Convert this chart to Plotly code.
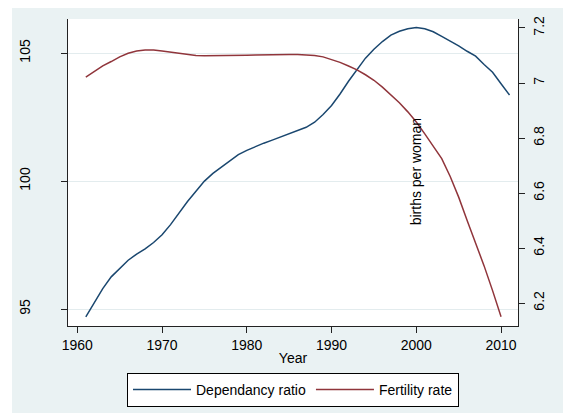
import plotly.graph_objects as go

years_dep = list(range(1961, 2012))
dependency_ratio = [
    94.70, 95.25, 95.80, 96.26, 96.60, 96.91, 97.15, 97.35, 97.60, 97.90,
    98.30, 98.75, 99.20, 99.60, 100.00, 100.30, 100.55, 100.80, 101.03, 101.20,
    101.35, 101.48, 101.60, 101.72, 101.85, 101.97, 102.10, 102.30, 102.60, 102.95,
    103.40, 103.90, 104.35, 104.80, 105.15, 105.45, 105.70, 105.85, 105.95, 106.00,
    105.95, 105.83, 105.65, 105.48, 105.28, 105.07, 104.88, 104.55, 104.25, 103.80,
    103.36,
]

years_fert = list(range(1961, 2011))
fertility_rate = [
    7.021, 7.042, 7.062, 7.078, 7.095, 7.108, 7.116, 7.120, 7.120, 7.116,
    7.112, 7.107, 7.103, 7.100, 7.099, 7.099, 7.099, 7.099, 7.100, 7.101,
    7.102, 7.103, 7.104, 7.104, 7.104, 7.104, 7.102, 7.100, 7.095, 7.086,
    7.075, 7.062, 7.048, 7.030, 7.010, 6.985, 6.958, 6.928, 6.895, 6.858,
    6.815, 6.768, 6.725, 6.660, 6.585, 6.500, 6.420, 6.335, 6.245, 6.150,
]

x_ticks = [1960, 1970, 1980, 1990, 2000, 2010]
y_ticks = [95, 100, 105]
y2_ticks = [6.2, 6.4, 6.6, 6.8, 7.0, 7.2]
y2_ticktext = ["6.2", "6.4", "6.6", "6.8", "7", "7.2"]

FONT = "Liberation Sans, Arial, sans-serif"
FS = 14
BG = "#EAF2F3"
AX = "#222222"

fig = go.Figure()
fig.add_trace(go.Scatter(x=years_dep, y=dependency_ratio, mode="lines",
                         name="Dependancy ratio",
                         line=dict(color="#1A476F", width=1.5)))
fig.add_trace(go.Scatter(x=years_fert, y=fertility_rate, mode="lines",
                         name="Fertility rate", yaxis="y2",
                         line=dict(color="#90353B", width=1.5)))

white_strip = dict(type="rect", xref="paper", yref="paper", fillcolor="white",
                   line=dict(width=0), layer="above")

fig.update_layout(
    template="none",
    width=564, height=408,
    margin=dict(l=60, r=54, t=11, b=90, pad=0, autoexpand=False),
    paper_bgcolor=BG, plot_bgcolor="white",
    font=dict(family=FONT, size=FS, color="black"),
    showlegend=True,
    legend=dict(orientation="h", x=0.5, xanchor="center", y=-0.153, yanchor="top",
                bordercolor="black", borderwidth=1, bgcolor="white",
                font=dict(size=FS), itemwidth=58),
    xaxis=dict(range=[1958.9, 2012.0], tickvals=x_ticks, ticks="outside", ticklen=6,
               tickcolor=AX, showline=True, linecolor=AX, linewidth=1,
               showgrid=False, zeroline=False, automargin=False,
               title=dict(text="Year", standoff=1, font=dict(size=FS))),
    yaxis=dict(range=[94.34, 106.33], tickvals=y_ticks, ticks="outside", ticklen=6,
               tickcolor=AX, showline=True, linecolor=AX, linewidth=1,
               showgrid=True, gridcolor="#E3ECEE", gridwidth=1, zeroline=False,
               automargin=False, tickangle=-90, ticklabelstandoff=25),
    yaxis2=dict(range=[6.1164, 7.2327], overlaying="y", side="right",
                tickvals=y2_ticks, ticktext=y2_ticktext, ticks="outside", ticklen=6,
                tickcolor=AX, showline=True, linecolor=AX, linewidth=1,
                showgrid=False, zeroline=False, automargin=False, tickangle=-90,
                ticklabelstandoff=2),
    shapes=[
        dict(white_strip, x0=-0.2, x1=-0.1244, y0=-0.4, y1=1.2),
        dict(white_strip, x0=1.1, x1=1.3, y0=-0.4, y1=1.2),
        dict(white_strip, x0=-0.2, x1=1.3, y0=-0.4, y1=-0.2834),
    ],
    annotations=[
        dict(text="births per woman", x=2000, xref="x", y=0.5016, yref="paper",
             textangle=-90, showarrow=False, xanchor="center", yanchor="middle",
             font=dict(size=FS, color="black")),
    ],
)

fig.write_html("out.html")
